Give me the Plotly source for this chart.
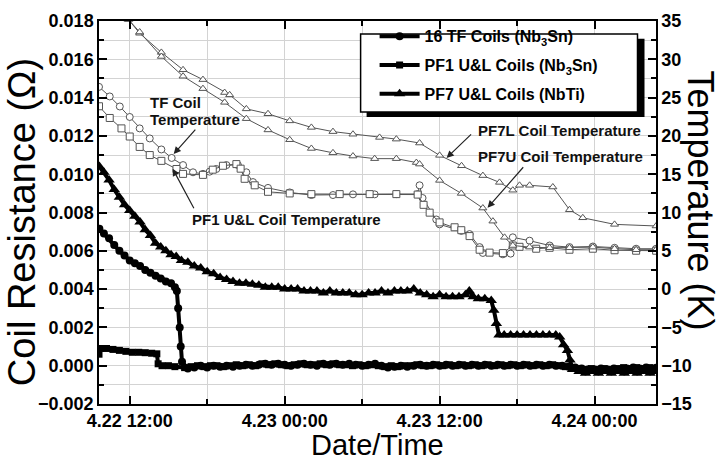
import pandas as pd
import plotly.graph_objects as go

# ---------------- data (hours since 4.22 00:00) ----------------
tf_r_h = [9.65, 10.0, 10.4, 10.8, 11.2, 11.6, 12.0, 12.4, 12.8, 13.2, 13.6, 14.0, 14.4, 14.8, 15.2, 15.5,
          15.65, 15.75, 15.87, 15.95, 16.05,
          16.5, 17.0, 17.5, 18.0, 18.5, 19.0, 19.5, 20.0, 20.5, 21.0, 21.5, 22.0, 22.5, 23.0, 23.5, 24.0,
          24.5, 25.0, 25.5, 26.0, 26.5, 27.0, 27.5, 28.0, 28.5, 29.0, 29.5, 30.0, 30.5, 31.0, 31.5, 32.0,
          32.5, 33.0, 33.5, 34.0, 34.5, 35.0, 35.5, 36.0, 36.5, 37.0, 37.5, 38.0, 38.5, 39.0, 39.5, 40.0,
          40.5, 41.0, 41.5, 42.0, 42.5, 43.0, 43.5, 44.0, 44.5, 45.0, 45.5, 46.0, 46.5, 47.0, 47.5, 48.0,
          48.5, 49.0, 49.5, 50.0, 50.5, 51.0, 51.5, 52.0, 52.5, 52.8]
tf_r = [0.00715, 0.0069, 0.00665, 0.0063, 0.0060, 0.00575, 0.0055, 0.00535, 0.0052, 0.0050, 0.00485, 0.0047,
        0.00455, 0.0044, 0.0043, 0.0041,
        0.0039, 0.0030, 0.0020, 0.0010, 0.0002,
        -0.00015, -0.0001, 0.0, -0.0001, 0.0, -0.00005, 0.0, -0.00005, 0.0, 0.00005, 0.0, 0.00005, 0.0001,
        0.00005, 0.0001, 0.00005, 0.0, 0.00005, 0.0001, 0.00005, 0.0, 0.0001, 0.00005, 0.0001, 0.00005,
        0.0001, 0.00005, 0.0, 0.00005, 0.0001, 0.0, -0.0001, -0.00005, 0.0, -0.00005, 0.0, 0.00005, 0.0,
        0.00005, 0.0, 0.00005, 0.0, 0.00005, 0.0, 0.00005, 0.0, 0.00005, 0.0, 0.00005, 0.0, 0.00005, 0.0,
        0.00005, 0.0, 0.00005, 0.0, 0.00005, 0.0, 0.0, -0.00005, -0.0001, -0.00015, -0.0002, -0.0002,
        -0.00015, -0.0002, -0.00015, -0.0002, -0.00015, -0.0001, -0.00015, -0.0001, -0.00015, -0.0001]

pf1_r_h = [9.62, 9.75, 10.2, 10.7, 11.2, 11.7, 12.2, 12.7, 13.2, 13.7, 14.1, 14.2, 14.5,
           15.0, 15.5, 16.25, 16.75, 17.25, 17.75, 18.25, 18.75, 19.25, 19.75, 20.25, 20.75, 21.25, 21.75,
           22.25, 22.75, 23.25, 23.75, 24.25, 24.75, 25.25, 25.75, 26.25, 26.75, 27.25, 27.75, 28.25, 28.75,
           29.25, 29.75, 30.25, 30.75, 31.25, 31.75, 32.25, 32.75, 33.25, 33.75, 34.25, 34.75, 35.25, 35.75,
           36.25, 36.75, 37.25, 37.75, 38.25, 38.75, 39.25, 39.75, 40.25, 40.75, 41.25, 41.75, 42.25, 42.75,
           43.25, 43.75, 44.25, 44.75, 45.25, 45.75, 46.25, 46.75, 47.25, 47.75, 48.25, 48.75, 49.25, 49.75,
           50.25, 50.75, 51.25, 51.75, 52.25, 52.75]
pf1_r = [0.0006, 0.0009, 0.0009, 0.00085, 0.0008, 0.00075, 0.0007, 0.0007, 0.00068, 0.00065, 0.00062, 0.0001, 0.0,
         0.0, -0.00005, -0.0001, -0.00005, 0.0, -0.00005, 0.0, 0.0, -0.00005, 0.0, 0.00005, 0.0, 0.00005, 0.0,
         0.0001, 0.00005, 0.0001, 0.00005, 0.0, 0.00005, 0.0001, 0.00005, 0.00005, 0.0001, 0.00005, 0.0001,
         0.00005, 0.00005, 0.0, 0.00005, 0.0, 0.00005, 0.0, -0.00005, 0.0, -0.00005, 0.0, 0.0, 0.00005, 0.0,
         0.0, 0.00005, 0.0, 0.00005, 0.0, 0.00005, 0.0, 0.00005, 0.0, 0.00005, 0.0, 0.00005, 0.0, 0.00005,
         0.0, 0.00005, 0.0, 0.00005, 0.0, 0.00005, 0.0, -0.00005, -0.0001, -0.00015, -0.0002, -0.00015,
         -0.0002, -0.00015, -0.0002, -0.00015, -0.0001, -0.00015, -0.0001, -0.00015, -0.0001, -0.00015]

pf7_r_h = [9.65, 10.0, 10.4, 10.8, 11.2, 11.6, 12.0, 12.4, 12.8, 13.2, 13.6, 14.0, 14.4, 14.8, 15.2, 15.6,
           16.0, 16.5, 17.0, 17.5, 18.0, 18.5, 19.0, 19.5, 20.0, 20.5, 21.0, 21.5, 22.0, 22.5, 23.0, 23.5,
           24.0, 24.5, 25.0, 25.5, 26.0, 26.5, 27.0, 27.5, 28.0, 28.5, 29.0, 29.5, 30.0, 30.5, 31.0, 31.5,
           32.0, 32.5, 33.0, 33.5, 34.0, 34.5, 35.0, 35.5, 36.0, 36.5, 37.0, 37.5, 38.0, 38.3, 38.6, 39.0,
           39.5, 40.0, 40.2, 40.4, 40.6, 41.0, 41.5, 42.0, 42.5, 43.0, 43.5, 44.0, 44.5, 45.0, 45.3, 45.6,
           45.9, 46.1, 46.3, 46.8, 47.3, 47.8, 48.3, 48.8, 49.3, 49.8, 50.3, 50.8, 51.3, 51.8, 52.3, 52.8]
pf7_r = [0.0104, 0.0101, 0.0097, 0.0092, 0.0088, 0.0084, 0.0081, 0.0078, 0.0075, 0.0071, 0.0068, 0.0064, 0.0062,
         0.0060, 0.0058, 0.0057, 0.0055, 0.0054, 0.0052, 0.0051, 0.0049, 0.0048, 0.0046, 0.0045, 0.0044, 0.0043,
         0.0043, 0.00425, 0.0042, 0.0041, 0.0041, 0.0041, 0.0040, 0.0040, 0.0040, 0.0039, 0.0039, 0.0039, 0.0038,
         0.0039, 0.0038, 0.0038, 0.0038, 0.0037, 0.0037, 0.0038, 0.0038, 0.0039, 0.0038, 0.0039, 0.0039, 0.0039,
         0.0040, 0.0038, 0.0037, 0.0036, 0.0037, 0.0036, 0.0036, 0.0036, 0.0037, 0.0039, 0.0036, 0.0035, 0.0035,
         0.0034, 0.0029, 0.0022, 0.0016, 0.0016, 0.0016, 0.0016, 0.0016, 0.0016, 0.0016, 0.0016, 0.0016, 0.0016,
         0.0015, 0.0011, 0.0008, 0.0003, -0.0002, -0.0003, -0.0004, -0.0003, -0.0004, -0.0003, -0.0004, -0.0003,
         -0.0004, -0.0003, -0.0004, -0.0003, -0.0004, -0.0003]

tf_t_h = [9.62, 10.45, 11.23, 12.0, 12.77, 13.55, 14.45, 15.25, 16.13, 16.9, 17.67, 18.19, 18.71, 19.49, 20.38,
          21.03, 21.55, 22.71, 24.39, 26.07, 27.74, 29.29, 30.97, 32.65, 34.3, 34.45, 34.68, 35.74, 36.0, 37.68,
          38.32, 39.1, 39.35, 40.9, 41.5, 41.67, 42.97, 44.52, 46.06, 47.87, 49.55, 51.22, 52.77]
tf_t = [26.4, 25.15, 23.84, 22.47, 20.98, 19.67, 18.23, 17.12, 16.19, 15.25, 15.04, 15.33, 15.68, 16.19, 16.19,
        15.25, 13.97, 13.21, 12.62, 12.28, 12.28, 12.37, 12.37, 12.4, 12.4, 13.55, 11.89, 9.09, 8.45, 7.6,
        7.18, 5.48, 4.72, 4.54, 4.63, 6.76, 6.32, 5.69, 5.48, 5.56, 5.39, 5.27, 5.27]

pf1_t_h = [9.62, 10.45, 11.36, 12.0, 12.77, 13.55, 14.45, 15.62, 16.13, 17.67, 18.43, 19.22, 20.26, 20.59, 20.9,
           21.68, 22.71, 24.39, 26.07, 28.26, 30.58, 32.65, 34.3, 34.76, 35.23, 36.0, 37.16, 37.68, 38.32, 39.1,
           39.87, 40.9, 41.67, 42.19, 43.48, 44.52, 46.06, 47.87, 49.55, 51.22, 52.77]
pf1_t = [23.87, 22.34, 20.98, 19.92, 18.56, 17.5, 16.74, 15.68, 15.04, 14.91, 15.59, 16.1, 16.32, 15.72, 14.4,
         13.55, 12.7, 12.49, 12.4, 12.4, 12.4, 12.4, 12.34, 11.0, 9.98, 8.71, 8.07, 7.69, 6.92, 5.14,
         4.76, 4.7, 5.69, 5.52, 5.27, 5.39, 5.14, 5.27, 5.07, 5.01, 5.01]

pf7l_t_h = [11.9, 12.77, 14.45, 16.13, 17.67, 19.35, 19.74, 21.03, 22.71, 24.39, 26.07, 27.74, 29.29, 31.35,
            32.65, 34.45, 36.0, 37.7, 39.35, 40.64, 41.67, 42.19, 42.97, 44.77, 46.06, 47.09, 49.55, 52.77]
pf7l_t = [35.2, 33.4, 30.9, 28.63, 27.35, 25.66, 25.36, 23.53, 22.89, 21.96, 21.11, 20.56, 20.22, 19.8,
          19.58, 19.07, 17.46, 16.1, 14.82, 13.93, 12.91, 13.55, 13.55, 13.33, 10.36, 9.31, 8.45, 8.24]

pf7u_t_h = [11.9, 12.77, 14.45, 16.13, 17.67, 19.35, 21.03, 22.71, 24.39, 26.07, 27.74, 29.29, 30.97, 32.65,
            34.2, 34.45, 36.0, 37.68, 39.35, 40.13, 41.03, 41.67, 42.97, 44.52, 46.06, 47.87, 49.55, 51.22, 52.77]
pf7u_t = [35.2, 33.56, 30.37, 27.79, 26.17, 24.38, 22.25, 20.78, 19.5, 18.36, 17.79, 17.37, 17.03, 17.03,
          16.52, 16.32, 14.19, 12.49, 10.58, 8.87, 6.76, 5.69, 5.48, 5.39, 5.39, 5.48, 5.27, 5.14, 5.14]

r_tickvals = [-0.002, 0.0, 0.002, 0.004, 0.006, 0.008, 0.010, 0.012, 0.014, 0.016, 0.018]
t_tickvals = [-15, -10, -5, 0, 5, 10, 15, 20, 25, 30, 35]
x_tick_hours = [12, 24, 36, 48]
x_tick_text = ["4.22 12:00", "4.23 00:00", "4.23 12:00", "4.24 00:00"]

BASE = pd.Timestamp("2012-04-22 00:00")


def to_dt(hours):
    return BASE + pd.to_timedelta(hours, unit="h")


# ---------------- layout geometry (pixels) ----------------
W, H = 721, 464
L, R_, T_, B_ = 99.3, 656.5, 11.7, 404.0
PW, PH = R_ - L, B_ - T_


def px(x):
    return (x - L) / PW


def py(y):
    return (B_ - y) / PH


FONT = "Liberation Sans, Arial, sans-serif"
GREY = "#555555"

fig = go.Figure()

res_series = [
    ("16 TF Coils (Nb<sub>3</sub>Sn)", tf_r_h, tf_r, "circle", 8),
    ("PF1 U&L Coils (Nb<sub>3</sub>Sn)", pf1_r_h, pf1_r, "square", 7),
    ("PF7 U&L Coils (NbTi)", pf7_r_h, pf7_r, "triangle-up", 10),
]
for i, (name, hh, vv, sym, sz) in enumerate(res_series):
    fig.add_trace(go.Scatter(
        x=to_dt(hh), y=vv, mode="lines+markers", name="<b>" + name + "</b>",
        legendgroup="g%d" % i,
        line=dict(color="black", width=4),
        marker=dict(symbol=sym, size=sz, color="black"),
        yaxis="y",
    ))

temp_series = [
    (tf_t_h, tf_t, "circle"),
    (pf1_t_h, pf1_t, "square"),
    (pf7l_t_h, pf7l_t, "triangle-up"),
    (pf7u_t_h, pf7u_t, "triangle-up"),
]
for hh, vv, sym in temp_series:
    fig.add_trace(go.Scatter(
        x=to_dt(hh), y=vv, mode="lines+markers", showlegend=False,
        line=dict(color=GREY, width=1),
        marker=dict(symbol=sym, size=7, color="white", line=dict(color=GREY, width=1)),
        yaxis="y2",
    ))

tickfont = dict(family=FONT, size=18, color="black", weight="bold")

fig.update_layout(
    width=W, height=H,
    margin=dict(l=L, r=W - R_, t=T_, b=H - B_, pad=0),
    paper_bgcolor="white", plot_bgcolor="white",
    font=dict(family=FONT, color="black"),
    xaxis=dict(
        type="date",
        range=[to_dt(9.62), to_dt(52.76)],
        tickvals=[to_dt(h) for h in x_tick_hours], ticktext=x_tick_text,
        ticks="inside", ticklen=8, tickwidth=1.5, tickcolor="black",
        showline=True, linecolor="black", linewidth=1.5, mirror="ticks",
        showgrid=True, gridcolor="#d3d3d3", gridwidth=1,
        tickfont=tickfont, zeroline=False,
        minor=dict(dtick=6 * 3600 * 1000, tick0=BASE, ticks="inside", ticklen=5,
                   tickcolor="black", showgrid=True, gridcolor="#d3d3d3"),
    ),
    yaxis=dict(
        range=[-0.002, 0.018], tickvals=r_tickvals, tickformat=".3f",
        ticks="inside", ticklen=8, tickwidth=1.5, tickcolor="black",
        showline=True, linecolor="black", linewidth=1.5,
        showgrid=True, gridcolor="#d3d3d3", gridwidth=1, zeroline=False,
        tickfont=tickfont,
        minor=dict(dtick=0.001, tick0=0, ticks="inside", ticklen=5, tickcolor="black",
                   showgrid=True, gridcolor="#d3d3d3"),
    ),
    yaxis2=dict(
        overlaying="y", side="right",
        range=[-15, 35], tickvals=t_tickvals,
        ticks="inside", ticklen=8, tickwidth=1.5, tickcolor="black",
        showline=True, linecolor="black", linewidth=1.5,
        showgrid=False, zeroline=False,
        tickfont=tickfont,
        minor=dict(dtick=2.5, tick0=0, ticks="inside", ticklen=5, tickcolor="black"),
    ),
    legend=dict(
        x=px(375), y=py(10), xanchor="left", yanchor="top",
        bgcolor="rgba(0,0,0,0)", borderwidth=0,
        font=dict(family=FONT, size=16, color="black"),
        tracegroupgap=5, itemwidth=40,
    ),
    showlegend=True,
)

# legend frame with drop shadow
fig.add_shape(type="rect", xref="paper", yref="paper", layer="above",
              x0=px(367), x1=px(645), y0=py(110), y1=py(30),
              fillcolor="black", line=dict(width=0))
fig.add_shape(type="rect", xref="paper", yref="paper", layer="above",
              x0=px(361), x1=px(638), y0=py(105), y1=py(25),
              fillcolor="white", line=dict(color="black", width=1.5))

ann_font = dict(family=FONT, size=15, color="#111111")
texts = [
    ("<b>TF Coil</b>", 148, 95),
    ("<b>Temperature</b>", 148, 113),
    ("<b>PF1 U&L Coil Temperature</b>", 190, 215),
    ("<b>PF7L Coil Temperature</b>", 476, 124),
    ("<b>PF7U Coil Temperature</b>", 476, 151),
]
for t, x, y in texts:
    fig.add_annotation(text=t, xref="paper", yref="paper", x=px(x), y=py(y),
                       xanchor="left", yanchor="middle", showarrow=False, font=ann_font)

arrows = [
    ((174, 148), (197, 122)),
    ((173, 163), (195, 204)),
    ((447, 152), (473, 127)),
    ((488, 203), (525, 161)),
]
for (hx, hy), (tx, ty) in arrows:
    fig.add_annotation(text="", xref="paper", yref="paper", x=px(hx), y=py(hy),
                       axref="pixel", ayref="pixel", ax=tx - hx, ay=ty - hy,
                       showarrow=True, arrowhead=2, arrowsize=1.2, arrowwidth=1.2,
                       arrowcolor="#222222")

# axis titles
fig.add_annotation(text="Coil Resistance (Ω)", xref="paper", yref="paper",
                   x=px(23), y=py(218), textangle=-90, showarrow=False,
                   xanchor="center", yanchor="middle",
                   font=dict(family=FONT, size=38, color="black"))
fig.add_annotation(text="Temperature (K)", xref="paper", yref="paper",
                   x=px(701), y=py(196), textangle=90, showarrow=False,
                   xanchor="center", yanchor="middle",
                   font=dict(family=FONT, size=36, color="black"))
fig.add_annotation(text="Date/Time", xref="paper", yref="paper",
                   x=px(378), y=py(446), showarrow=False,
                   xanchor="center", yanchor="middle",
                   font=dict(family=FONT, size=29, color="black"))

fig.write_html("out.html")
